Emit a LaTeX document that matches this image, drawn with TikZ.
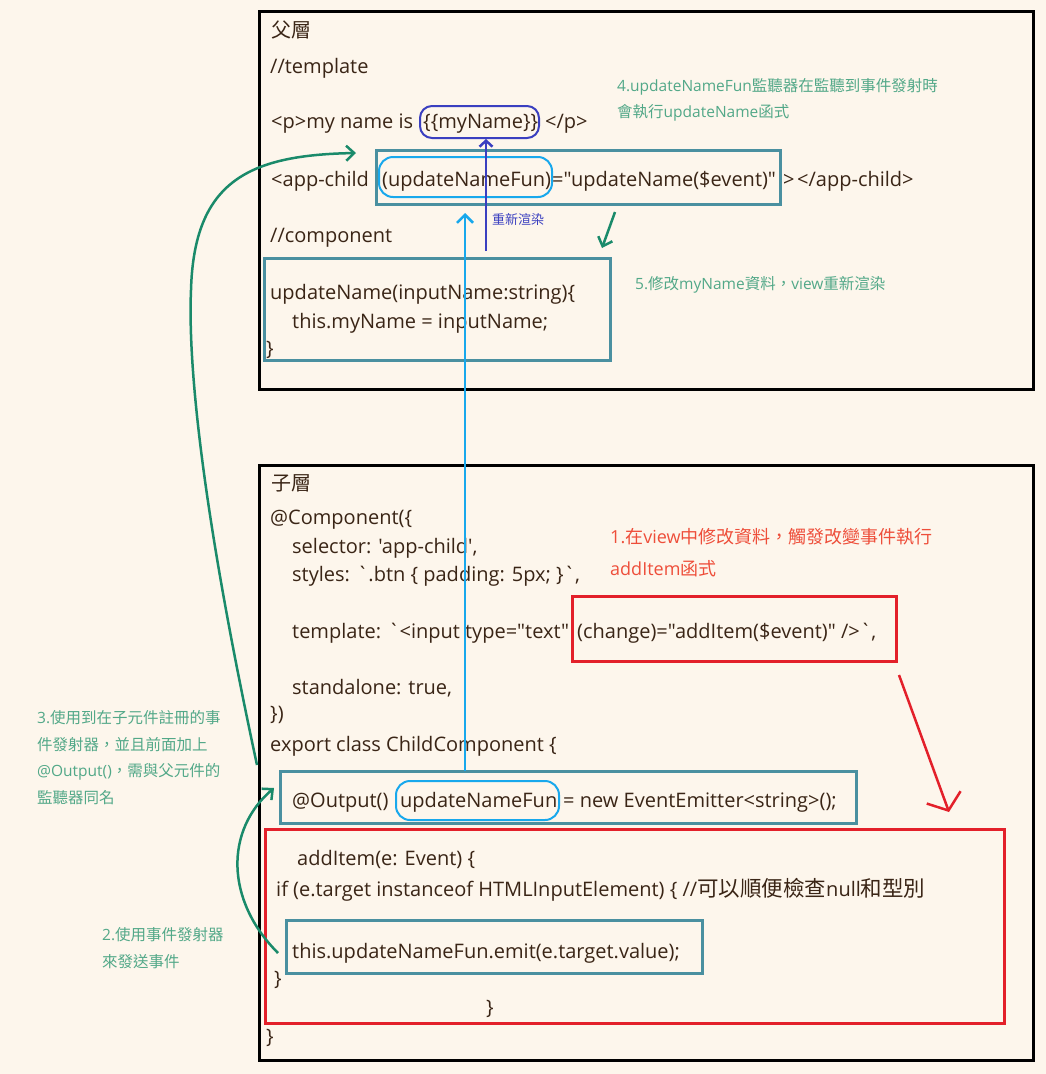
\documentclass[tikz,border=0pt]{standalone}
\usepackage{fontspec}
\setmainfont{Open Sans}[Ligatures=TeXOff]
\newfontfamily\cjk{Noto Sans CJK TC}
\usetikzlibrary{arrows.meta}
\definecolor{bgc}{HTML}{FDF6EC}
\definecolor{codec}{HTML}{3A2516}
\definecolor{tealc}{HTML}{4A90A0}
\definecolor{navyc}{HTML}{3A3FC0}
\definecolor{cyanc}{HTML}{18A8EC}
\definecolor{redc}{HTML}{E3202A}
\definecolor{redtxt}{HTML}{EE4E3A}
\definecolor{greentxt}{HTML}{52A888}
\definecolor{greenarr}{HTML}{1A8A6A}
\begin{document}
\begin{tikzpicture}[x=1pt,y=-1pt,
  code/.style={anchor=base west,inner sep=0pt,text=codec,font=\fontsize{20}{24}\selectfont},
  head/.style={anchor=base west,inner sep=0pt,text=codec,font=\fontsize{20}{24}\selectfont\cjk},
  note/.style={anchor=base west,inner sep=0pt,font=\fontsize{15.5}{18}\selectfont},
  greennote/.style={note,text=greentxt},
  rednote/.style={note,text=redtxt,font=\fontsize{18}{21}\selectfont},
  blackbox/.style={draw=black,line width=3pt,inner sep=0pt},
  tealbox/.style={draw=tealc,line width=3pt,inner sep=0pt},
  redbox/.style={draw=redc,line width=3pt,inner sep=0pt},
  navyround/.style={draw=navyc,line width=2pt,rounded corners=12pt,inner sep=0pt},
  cyanround/.style={draw=cyanc,line width=2pt,rounded corners=14pt,inner sep=0pt},
  greenarrow/.style={draw=greenarr,line width=2.5pt,-{Straight Barb[length=8pt,width=15pt]}},
  navyarrow/.style={draw=navyc,line width=2.5pt,-{Straight Barb[length=6pt,width=13pt]}},
  cyanarrow/.style={draw=cyanc,line width=2.5pt,-{Straight Barb[length=8pt,width=16pt]}},
  redarrow/.style={draw=redc,line width=2.5pt,-{Straight Barb[length=14pt,width=36pt]}}
]
\useasboundingbox (0,0) rectangle (1046,1074);
\fill[bgc] (0,0) rectangle (1046,1074);

% ---------- boxes ----------
\node[blackbox,minimum width=774pt,minimum height=378pt] (topbox) at (646,200) {};
\node[blackbox,minimum width=774pt,minimum height=595pt] (botbox) at (646,762.5) {};
\node[tealbox,minimum width=404pt,minimum height=54pt] (tealA) at (578,177) {};
\node[tealbox,minimum width=346pt,minimum height=102pt] (tealB) at (437,309) {};
\node[tealbox,minimum width=576pt,minimum height=52pt] (tealC) at (568,797) {};
\node[tealbox,minimum width=416pt,minimum height=53pt] (tealD) at (494,946.5) {};
\node[redbox,minimum width=324pt,minimum height=65pt] (redA) at (734,628.5) {};
\node[redbox,minimum width=739pt,minimum height=194pt] (redB) at (634.5,926) {};
\node[navyround,minimum width=119pt,minimum height=32pt] (navyR) at (479.5,122) {};
\node[cyanround,minimum width=173pt,minimum height=40pt] (cyanA) at (465.5,177) {};
\node[cyanround,minimum width=163pt,minimum height=39pt] (cyanB) at (477.5,800.5) {};

% ---------- parent layer text ----------
\node[head] (hP) at (271,37) {父層};
\node[code] (t1) at (270,73) {//template};
\node[code] (t2a) at (271,128) {<p>my name is};
\node[code] (t2b) at (423,128) {\{\{myName\}\}};
\node[code] (t2c) at (545,128) {</p>};
\node[code] (t3a) at (271,186) {<app-child};
\node[code] (t3b) at (382,186) {(updateNameFun)};
\node[code] (t3c) at (552,186) {="updateName(\$event)"};
\node[code] (t3d) at (783,186) {>};
\node[code] (t3e) at (797,186) {</app-child>};
\node[code] (t4) at (270,242) {//component};
\node[code] (t5) at (270,299) {updateName(inputName:string)\{};
\node[code] (t6) at (292,328) {this.myName = inputName;};
\node[code] (t7) at (266,355) {\}};
\node[note,text=navyc,font=\fontsize{13}{15}\selectfont\cjk] (rr) at (492,224) {重新渲染};
\node[greennote] (n4a) at (617,91) {4.updateNameFun{\cjk 監聽器在監聽到事件發射時}};
\node[greennote] (n4b) at (617,117) {{\cjk 會執行}updateName{\cjk 函式}};
\node[greennote] (n5) at (635,289) {5.{\cjk 修改}myName{\cjk 資料，}view{\cjk 重新渲染}};

% ---------- child layer text ----------
\node[head] (hC) at (271,490) {子層};
\node[code] (c1) at (270,524) {@Component(\{};
\node[code] (c2) at (292,553) {selector: 'app-child',};
\node[code] (c3) at (292,581) {styles: `.btn \{ padding: 5px; \}`,};
\node[code] (c4a) at (292,638) {template: `<input type="text"};
\node[code] (c4b) at (577,638) {(change)="addItem(\$event)" />`,};
\node[code] (c5) at (292,694) {standalone: true,};
\node[code] (c6) at (270,720) {\})};
\node[code] (c7) at (270,751) {export class ChildComponent \{};
\node[code] (c8a) at (292,807) {@Output()};
\node[code] (c8b) at (400,807) {updateNameFun};
\node[code] (c8c) at (563,807) {= new EventEmitter<string>();};
\node[code] (c9) at (297,865) {addItem(e: Event) \{};
\node[code] (c10) at (276,896) {if (e.target instanceof HTMLInputElement) \{ //{\fontsize{21.5}{24}\selectfont\cjk 可以順便檢查}null{\fontsize{21.5}{24}\selectfont\cjk 和型別}};
\node[code] (c11) at (292,958) {this.updateNameFun.emit(e.target.value);};
\node[code] (c12) at (274,985) {\}};
\node[code] (c13) at (486,1014) {\}};
\node[code] (c14) at (266,1043) {\}};
\node[rednote] (n1a) at (610,543) {1.{\cjk 在}view{\cjk 中修改資料，觸發改變事件執行}};
\node[rednote] (n1b) at (610,575) {addItem{\cjk 函式}};
\node[greennote] (n3a) at (37,723) {3.{\cjk 使用到在子元件註冊的事}};
\node[greennote] (n3b) at (37,750) {\cjk 件發射器，並且前面加上};
\node[greennote] (n3c) at (37,776) {@Output(){\cjk ，需與父元件的}};
\node[greennote] (n3d) at (37,803) {\cjk 監聽器同名};
\node[greennote] (n2a) at (102,940) {2.{\cjk 使用事件發射器}};
\node[greennote] (n2b) at (102,967) {\cjk 來發送事件};

% ---------- arrow endpoints ----------
\coordinate (cyFrom) at (465,771);
\coordinate (cyTo) at (465,213);
\coordinate (nvFrom) at (486,251);
\coordinate (nvTo) at (486,139);
\coordinate (gbFrom) at (257,765);
\coordinate (gbTo) at (356,153);
\coordinate (gsFrom) at (278,953);
\coordinate (gsTo) at (274,788);
\coordinate (gtFrom) at (615,212);
\coordinate (gtTo) at (602,248);
\coordinate (rdFrom) at (899,675);
\coordinate (rdTo) at (949,812);

% ---------- connectors ----------
\draw[cyanarrow] (cyFrom) -- (cyTo);
\draw[navyarrow] (nvFrom) -- (nvTo);
\draw[greenarrow] (gbFrom) .. controls (200,500) and (188,360) .. (191,290)
  .. controls (194,180) and (250,155) .. (gbTo);
\draw[greenarrow] (gsFrom) .. controls (225,900) and (225,830) .. (gsTo);
\draw[greenarrow] (gtFrom) -- (gtTo);
\draw[redarrow] (rdFrom) -- (rdTo);
\end{tikzpicture}
\end{document}
